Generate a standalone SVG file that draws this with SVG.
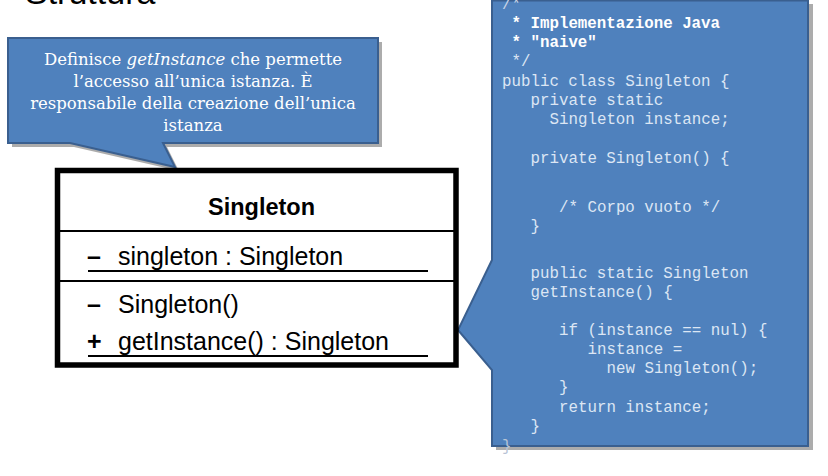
<svg xmlns="http://www.w3.org/2000/svg" width="828" height="476" viewBox="0 0 828 476">
<defs>
<style>
.callout{fill:#4F81BD;stroke:#3A5F8F;stroke-width:2}
.shadow{fill:#7F7F7F;opacity:0.65}
.note{font-family:"DejaVu Serif","Liberation Serif",serif;font-size:16.5px;fill:#FFFFFF;text-anchor:middle}
.code{font-family:"Liberation Mono","DejaVu Sans Mono",monospace;font-size:15.8px;fill:#DCE6F4}
.codeb{font-family:"Liberation Mono","DejaVu Sans Mono",monospace;font-size:15.8px;fill:#FFFFFF;font-weight:bold}
.uml{font-family:"Liberation Sans",Arial,sans-serif;font-size:25px;fill:#000}
.sym{font-weight:bold}
.umlt{font-family:"Liberation Sans",Arial,sans-serif;font-size:23.5px;font-weight:bold;fill:#000;text-anchor:middle}
.line{stroke:#000;stroke-width:2}
</style>
</defs>
<rect width="828" height="476" fill="#FFFFFF"/>
<text x="25" y="4" font-family="Liberation Sans, Arial, sans-serif" font-size="34" fill="#000">Struttura</text>

<g id="note-callout">
<path class="shadow" d="M12,42 H382 V147 H167 L179,171 L74,147 H12 Z"/>
<path class="callout" d="M8,38 H378 V143 H163 L175,167 L70,143 H8 Z"/>
<text class="note" x="193" y="65">Definisce <tspan font-style="italic">getInstance</tspan> che permette</text>
<text class="note" x="193" y="87">l’accesso all’unica istanza. È</text>
<text class="note" x="193" y="109">responsabile della creazione dell’unica</text>
<text class="note" x="193" y="131">istanza</text>
</g>

<g id="code-callout">
<path class="shadow" d="M496,4 H813 V450 H496 V374 L462,334 L496,264 Z"/>
<path class="callout" d="M492,0.5 H808 V446 H492 V370 L458,330 L492,260 Z"/>
<text class="code" x="502" y="9" style="fill:#C8D4E6">/*</text>
<text class="codeb" x="511.5" y="28">* Implementazione Java</text>
<text class="codeb" x="511.5" y="47">* "naive"</text>
<text class="code" x="511.5" y="66">*/</text>
<text class="code" x="502" y="86">public class Singleton {</text>
<text class="code" x="530.5" y="105">private static</text>
<text class="code" x="549.5" y="124">Singleton instance;</text>
<text class="code" x="530.5" y="163">private Singleton() {</text>
<text class="code" x="559" y="212">/* Corpo vuoto */</text>
<text class="code" x="530.5" y="231">}</text>
<text class="code" x="530.5" y="278">public static Singleton</text>
<text class="code" x="530.5" y="297">getInstance() {</text>
<text class="code" x="559" y="335">if (instance == nul) {</text>
<text class="code" x="587.5" y="354">instance =</text>
<text class="code" x="606.5" y="373">new Singleton();</text>
<text class="code" x="559" y="392">}</text>
<text class="code" x="559" y="412">return instance;</text>
<text class="code" x="530.5" y="431">}</text>
<text class="code" x="502" y="451" style="fill:#B8C4D6">}</text>
</g>

<g id="singleton-class">
<rect x="57.5" y="170.5" width="398.5" height="194.5" fill="#FFFFFF" stroke="#000" stroke-width="5.5"/>
<line class="line" x1="57.5" y1="231" x2="456" y2="231"/>
<line class="line" x1="57.5" y1="281" x2="456" y2="281"/>
<text class="umlt" x="261.5" y="215">Singleton</text>
<text class="uml sym" x="87" y="265">–</text>
<text class="uml" x="118" y="265">singleton : Singleton</text>
<line class="line" x1="88" y1="271" x2="428" y2="271"/>
<text class="uml sym" x="87" y="313">–</text>
<text class="uml" x="118" y="313">Singleton()</text>
<text class="uml sym" x="87" y="350">+</text>
<text class="uml" x="118" y="350">getInstance() : Singleton</text>
<line class="line" x1="88" y1="356" x2="428" y2="356"/>
</g>
</svg>
